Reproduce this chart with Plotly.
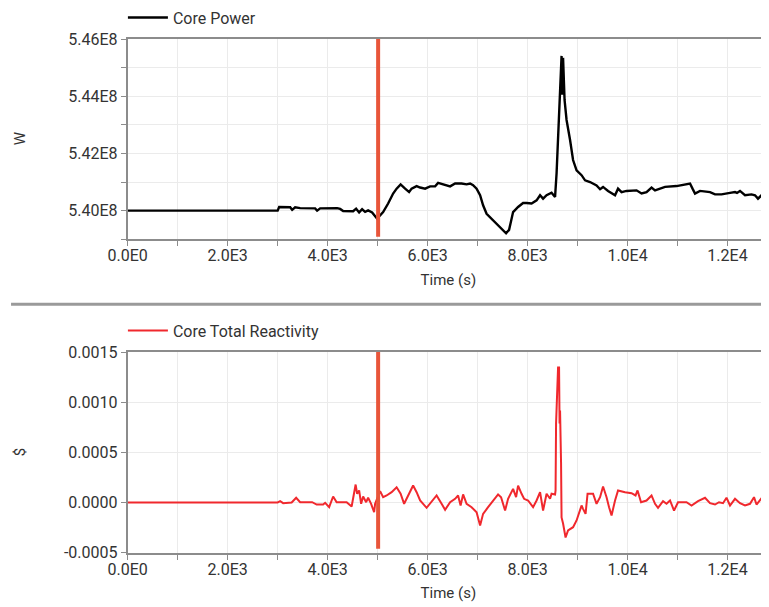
import plotly.graph_objects as go

# ---------------- data ----------------
power_time = [0, 3000, 3030, 3250, 3290, 3350, 3450, 3750, 3790, 3850, 4190, 4250, 4310, 4510, 4570,
              4630, 4690, 4750, 4810, 4890, 4990, 5110, 5210, 5310, 5380, 5460, 5550, 5630, 5680, 5780,
              5850, 5950, 6050, 6150, 6210, 6310, 6450, 6550, 6680, 6780, 6850, 6910, 6980, 7050, 7110,
              7180, 7280, 7380, 7480, 7570, 7630, 7680, 7710, 7810, 7910, 7980, 8080, 8180, 8250, 8310,
              8380, 8480, 8550, 8580, 8610, 8650, 8680, 8690, 8710, 8740, 8780, 8850, 8910, 8980, 9080,
              9150, 9250, 9380, 9450, 9510, 9610, 9750, 9810, 9880, 9980, 10180, 10280, 10380, 10480,
              10550, 10650, 10750, 10980, 11180, 11250, 11300, 11350, 11450, 11650, 11750, 11880, 12050,
              12150, 12190, 12250, 12350, 12480, 12550, 12610, 12680, 12750, 12830]
power_mw = [540.00, 540.00, 540.13, 540.12, 540.03, 540.12, 540.09, 540.08, 540.00, 540.08, 540.09,
            540.06, 539.99, 539.98, 540.07, 539.94, 540.05, 539.96, 540.01, 539.94, 539.72, 539.95,
            540.25, 540.60, 540.77, 540.92, 540.77, 540.65, 540.77, 540.86, 540.81, 540.77, 540.85,
            540.85, 540.97, 540.92, 540.85, 540.95, 540.95, 540.92, 540.95, 540.89, 540.77, 540.54,
            540.19, 539.89, 539.72, 539.54, 539.37, 539.21, 539.33, 539.66, 539.95, 540.13, 540.27,
            540.27, 540.25, 540.36, 540.54, 540.42, 540.54, 540.63, 540.48, 541.30, 542.47, 543.87,
            545.41, 544.05, 545.34, 543.87, 543.17, 542.47, 541.77, 541.41, 541.24, 541.06, 541.00,
            540.88, 540.75, 540.83, 540.69, 540.54, 540.77, 540.65, 540.69, 540.71, 540.60, 540.65,
            540.81, 540.71, 540.77, 540.83, 540.86, 540.92, 540.95, 540.77, 540.60, 540.69, 540.65,
            540.57, 540.57, 540.62, 540.65, 540.62, 540.69, 540.54, 540.57, 540.54, 540.42, 540.54,
            540.48, 540.34]

react_time = [0, 3000, 3050, 3110, 3280, 3370, 3450, 3690, 3780, 3910, 3950, 4030, 4110, 4180, 4380,
              4480, 4560, 4590, 4630, 4670, 4710, 4770, 4810, 4870, 4930, 4950, 5050, 5110, 5180, 5280,
              5380, 5460, 5530, 5610, 5710, 5780, 5850, 5980, 6080, 6180, 6280, 6350, 6450, 6550, 6610,
              6660, 6710, 6780, 6880, 6980, 7050, 7110, 7210, 7310, 7410, 7470, 7550, 7610, 7710, 7770,
              7810, 7880, 7930, 8010, 8110, 8180, 8250, 8310, 8380, 8450, 8480, 8550, 8560, 8570, 8590,
              8610, 8630, 8640, 8650, 8670, 8680, 8710, 8760, 8810, 8910, 8980, 9050, 9080, 9110, 9160,
              9200, 9310, 9380, 9450, 9510, 9580, 9630, 9680, 9750, 9810, 9950, 10080, 10160, 10200,
              10270, 10380, 10480, 10550, 10610, 10710, 10780, 10850, 10930, 11010, 11180, 11280, 11410,
              11550, 11650, 11750, 11830, 11910, 11980, 12050, 12150, 12250, 12350, 12450, 12530, 12580,
              12670, 12750, 12830]
react_e4 = [0, 0, 0.13, -0.07, 0, 0.47, 0.03, 0.03, -0.2, -0.2, -0.03, -0.47, 0.6, 0.03, 0.03, -0.4,
            1.79, 0.87, 1.2, -0.13, 0.6, 0.03, 0.47, -0.13, -0.97, -0.13, 1.13, 0.53, 0.7, 1.03, 1.52,
            0.87, -0.13, 0.7, 1.69, 1.03, 0.2, -0.53, 0.03, 0.7, -0.13, -0.73, 0.03, 0.37, 0.7, -0.3,
            0.8, -0.13, -0.47, -0.97, -2.29, -1.13, -0.47, 0.2, 0.8, 0.53, -0.8, 0.37, 1.36, 0.53, 1.69,
            0.87, 0.37, 0.2, -0.47, 0.2, 1.03, -0.8, 0.87, 0.37, 0.87, 0.8, 1.2, 7.87, 10.16, 13.45,
            13.45, 7.87, 9.16, 3.88, -1.49, -2.09, -3.49, -2.79, -2.46, -1.79, -0.8, -0.3, -0.63, -1.13,
            0.87, 0.87, -0.13, 0.53, 1.59, 0.53, -0.47, -1.29, 0.2, 1.2, 1.03, 0.93, 0.7, 1.2, 0.03,
            0.2, 0.7, -0.13, -0.53, 0.13, -0.13, 0.2, -0.8, 0.03, 0.03, -0.3, 0.13, 0.47, -0.07, -0.2,
            0.03, -0.07, 0.47, -0.3, 0.37, -0.07, -0.3, -0.13, 0.53, -0.2, 0.37, -0.13, -0.2]

marker_time = 5010
power_marker_span = [539.09e6, 546.0e6]
react_marker_span = [-0.00046, 0.00154]

x_tickvals = [0, 2000, 4000, 6000, 8000, 10000, 12000]
x_ticktext = ["0.0E0", "2.0E3", "4.0E3", "6.0E3", "8.0E3", "1.0E4", "1.2E4"]
x_minorvals = list(range(0, 13001, 1000))
p_tickvals = [5.40e8, 5.42e8, 5.44e8, 5.46e8]
p_ticktext = ["5.40E8", "5.42E8", "5.44E8", "5.46E8"]
p_minorvals = [5.39e8, 5.41e8, 5.43e8, 5.45e8]
r_tickvals = [-0.0005, 0.0, 0.0005, 0.0010, 0.0015]
r_ticktext = ["-0.0005", "0.0000", "0.0005", "0.0010", "0.0015"]

power_w = [v * 1e6 for v in power_mw]
react = [v * 1e-4 for v in react_e4]

# ---------------- figure ----------------
FONT = "Roboto"
AX = "#8c8c8c"
GRID = "#ebebeb"
TXT = "#333"
FS = 16
# page body keeps an 8px margin, so the figure is 8px smaller than the window
W, H = 761, 599

fig = go.Figure()
fig.add_trace(go.Scatter(x=power_time, y=power_w, mode="lines", name="Core Power",
                         line=dict(color="black", width=2.4), xaxis="x", yaxis="y", legend="legend"))
fig.add_trace(go.Scatter(x=react_time, y=react, mode="lines", name="Core Total Reactivity",
                         line=dict(color="#f0282d", width=2), xaxis="x2", yaxis="y2", legend="legend2"))

xcommon = dict(range=[0, 12830], domain=[0.1573, 1.0], tickmode="array", tickvals=x_tickvals,
               ticktext=x_ticktext, showline=True, linecolor=AX, linewidth=2, mirror=True,
               ticks="outside", ticklen=5, tickcolor=AX, tickwidth=1, showgrid=True, gridcolor=GRID,
               zeroline=False, automargin=False, ticklabelstandoff=-4,
               tickfont=dict(family=FONT, size=FS, color=TXT),
               minor=dict(tickmode="array", tickvals=x_minorvals, ticks="outside", ticklen=5,
                          tickcolor=AX, showgrid=True, gridcolor=GRID),
               title=dict(text="Time (s)", font=dict(family=FONT, size=15, color=TXT), standoff=10))

ycommon = dict(showline=True, linecolor=AX, linewidth=2, ticks="outside", ticklen=5, tickcolor=AX,
               showgrid=True, gridcolor=GRID, zeroline=False, automargin=False,
               tickfont=dict(family=FONT, size=FS, color=TXT), tickmode="array")

fig.update_layout(
    width=W, height=H, margin=dict(l=0, r=0, t=0, b=0, autoexpand=False),
    plot_bgcolor="white", paper_bgcolor="white",
    font=dict(family=FONT, size=15, color=TXT),
    xaxis=dict(anchor="y", **xcommon),
    xaxis2=dict(anchor="y2", **xcommon),
    yaxis=dict(domain=[0.6139, 0.9482], range=[5.39e8, 5.46e8],
               tickvals=p_tickvals, ticktext=p_ticktext,
               minor=dict(tickmode="array", tickvals=p_minorvals, ticks="outside", ticklen=5,
                          tickcolor=AX, showgrid=True, gridcolor=GRID),
               **ycommon),
    yaxis2=dict(domain=[0.0907, 0.4257], range=[-0.0005, 0.0015],
                tickvals=r_tickvals, ticktext=r_ticktext, **ycommon),
    legend=dict(x=0.151, y=1.0124, xanchor="left", yanchor="top", orientation="h", itemwidth=40,
                font=dict(family=FONT, size=16, color=TXT), bgcolor="rgba(0,0,0,0)"),
    legend2=dict(x=0.151, y=0.4898, xanchor="left", yanchor="top", orientation="h", itemwidth=40,
                 font=dict(family=FONT, size=16, color=TXT), bgcolor="rgba(0,0,0,0)"),
    showlegend=True,
)

# y-axis titles
for ref, label in (("y domain", "W"), ("y2 domain", "$")):
    fig.add_annotation(text=label, xref="paper", yref=ref, x=0.0158, y=0.5, xanchor="center",
                       yanchor="middle", textangle=-90, showarrow=False,
                       font=dict(family=FONT, size=15, color=TXT))

# event marker lines
fig.add_shape(type="line", xref="x", yref="y", x0=marker_time, x1=marker_time,
              y0=power_marker_span[0], y1=power_marker_span[1],
              line=dict(color="#e8553a", width=4))
fig.add_shape(type="line", xref="x2", yref="y2", x0=marker_time, x1=marker_time,
              y0=react_marker_span[0], y1=react_marker_span[1],
              line=dict(color="#e8553a", width=4))
# separator between panels
fig.add_shape(type="line", xref="paper", yref="paper", x0=0.004, x1=1.0, y0=0.5053, y1=0.5053,
              line=dict(color="#9a9a9a", width=3))

fig.write_html("out.html")
